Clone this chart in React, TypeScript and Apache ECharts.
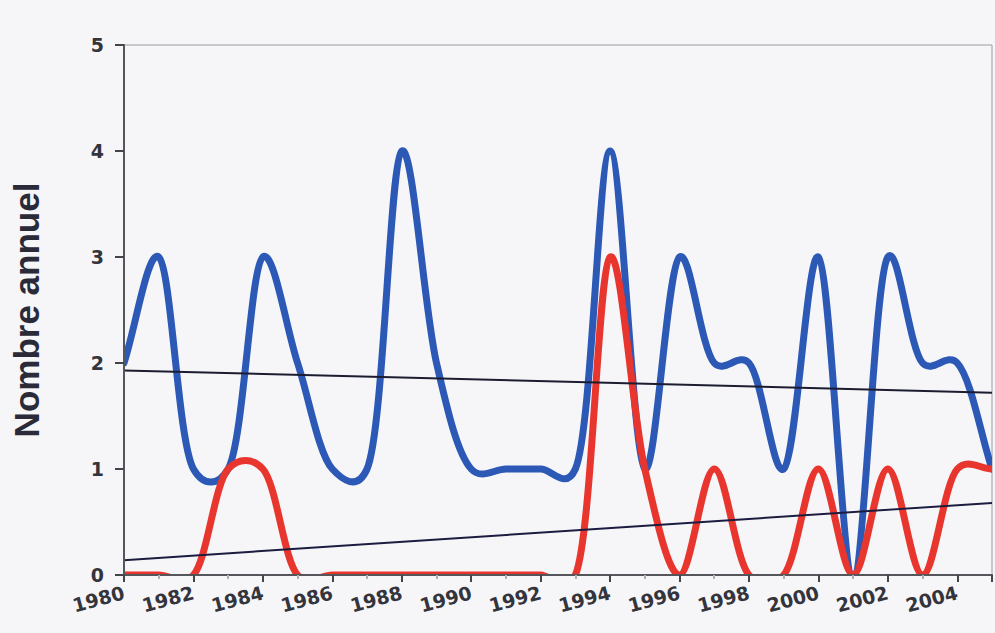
import React, { useEffect, useRef } from "react";
import * as echarts from "echarts";

const years = [1980, 1981, 1982, 1983, 1984, 1985, 1986, 1987, 1988, 1989, 1990, 1991, 1992, 1993, 1994, 1995, 1996, 1997, 1998, 1999, 2000, 2001, 2002, 2003, 2004, 2005];
const blueValues = [2, 3, 1, 1, 3, 2, 1, 1, 4, 2, 1, 1, 1, 1, 4, 1, 3, 2, 2, 1, 3, 0, 3, 2, 2, 1];
const redValues = [0, 0, 0, 1, 1, 0, 0, 0, 0, 0, 0, 0, 0, 0, 3, 1, 0, 1, 0, 0, 1, 0, 1, 0, 1, 1];
const trendYears = [1980, 2005];
const blueTrend = [1.93, 1.72];
const redTrend = [0.14, 0.68];
const yAxisName = "Nombre annuel";

// Catmull-Rom spline (parametrised) through pixel points, as cubic Bezier path
function splinePath(pts: number[][], alpha: number): string {
  const n = pts.length;
  let d = `M${pts[0][0]},${pts[0][1]}`;
  const dist = (a: number[], b: number[]) =>
    Math.max(Math.pow(Math.hypot(b[0] - a[0], b[1] - a[1]), alpha), 1e-6);
  for (let i = 0; i < n - 1; i++) {
    const p1 = pts[i];
    const p2 = pts[i + 1];
    const p0 = i > 0 ? pts[i - 1] : [2 * p1[0] - p2[0], 2 * p1[1] - p2[1]];
    const p3 = i < n - 2 ? pts[i + 2] : [2 * p2[0] - p1[0], 2 * p2[1] - p1[1]];
    const t01 = dist(p0, p1);
    const t12 = dist(p1, p2);
    const t23 = dist(p2, p3);
    const m1 = [0, 1].map(
      (k) => ((p1[k] - p0[k]) / t01 - (p2[k] - p0[k]) / (t01 + t12) + (p2[k] - p1[k]) / t12) * t12
    );
    const m2 = [0, 1].map(
      (k) => ((p2[k] - p1[k]) / t12 - (p3[k] - p1[k]) / (t12 + t23) + (p3[k] - p2[k]) / t23) * t12
    );
    const c1 = [p1[0] + m1[0] / 3, p1[1] + m1[1] / 3];
    const c2 = [p2[0] - m2[0] / 3, p2[1] - m2[1] / 3];
    d += ` C${c1[0]},${c1[1]} ${c2[0]},${c2[1]} ${p2[0]},${p2[1]}`;
  }
  return d;
}

function curveSeries(xs: number[], ys: number[], color: string, z: number) {
  return {
    type: "custom",
    coordinateSystem: "cartesian2d",
    data: xs.map((x, i) => [x, ys[i]]),
    encode: { x: 0, y: 1 },
    clip: true,
    z,
    silent: true,
    renderItem: (params: any, api: any) => {
      if (params.dataIndex !== 0) return null;
      const pts = xs.map((x, i) => api.coord([x, ys[i]]));
      return {
        type: "path",
        shape: { pathData: splinePath(pts, 0.25) },
        style: {
          fill: "none",
          stroke: color,
          lineWidth: 7,
          lineJoin: "round",
          lineCap: "round",
        },
      };
    },
  };
}

export default function App() {
  const ref = useRef<HTMLDivElement>(null);
  useEffect(() => {
    if (!ref.current) return;
    const chart = echarts.init(ref.current, undefined, { renderer: "svg" });
    const pairs = (xs: number[], ys: number[]) => xs.map((x, i) => [x, ys[i]]);
    const labelFont = {
      fontFamily: "DejaVu Sans",
      fontWeight: "bold" as const,
      fontSize: 19,
      color: "#34343c",
    };
    chart.setOption({
      animation: false,
      backgroundColor: "#f6f6f9",
      grid: {
        left: 124,
        right: 3,
        top: 45,
        bottom: 58,
        show: true,
        borderColor: "#9a9aa0",
        borderWidth: 1,
        backgroundColor: "transparent",
      },
      xAxis: {
        type: "value",
        min: 1980,
        max: 2005,
        interval: 2,
        z: 5,
        axisLine: { show: true, onZero: false, lineStyle: { color: "#55555c", width: 2 } },
        axisTick: { show: true, inside: false, length: 7, lineStyle: { color: "#44444a", width: 2 } },
        minorTick: { show: true, splitNumber: 2, length: 4, lineStyle: { color: "#b0b0b6", width: 2 } },
        splitLine: { show: false },
        axisLabel: {
          ...labelFont,
          rotate: 15,
          margin: 17,
          showMaxLabel: false,
          formatter: (v: number) => String(v),
        },
      },
      yAxis: {
        type: "value",
        min: 0,
        max: 5,
        interval: 1,
        z: 5,
        axisLine: { show: true, lineStyle: { color: "#55555c", width: 2 } },
        axisTick: { show: true, inside: false, length: 9, lineStyle: { color: "#44444a", width: 2 } },
        splitLine: { show: false },
        axisLabel: { ...labelFont, margin: 20 },
        name: yAxisName,
        nameLocation: "middle",
        nameGap: 80,
        nameTextStyle: {
          fontFamily: "Liberation Sans",
          fontWeight: "bold",
          fontSize: 35,
          color: "#2a2a38",
        },
      },
      series: [
        curveSeries(years, blueValues, "#2c58b6", 2),
        curveSeries(years, redValues, "#e8362e", 3),
        {
          type: "line",
          data: pairs(trendYears, blueTrend),
          showSymbol: false,
          symbol: "none",
          lineStyle: { color: "#1c1c30", width: 2 },
          z: 4,
        },
        {
          type: "line",
          data: pairs(trendYears, redTrend),
          showSymbol: false,
          symbol: "none",
          lineStyle: { color: "#1c1c40", width: 2 },
          z: 4,
        },
      ],
    });
    return () => chart.dispose();
  }, []);
  return (
    <div
      ref={ref}
      style={{ position: "fixed", left: 0, top: 0, width: 995, height: 633 }}
    />
  );
}
